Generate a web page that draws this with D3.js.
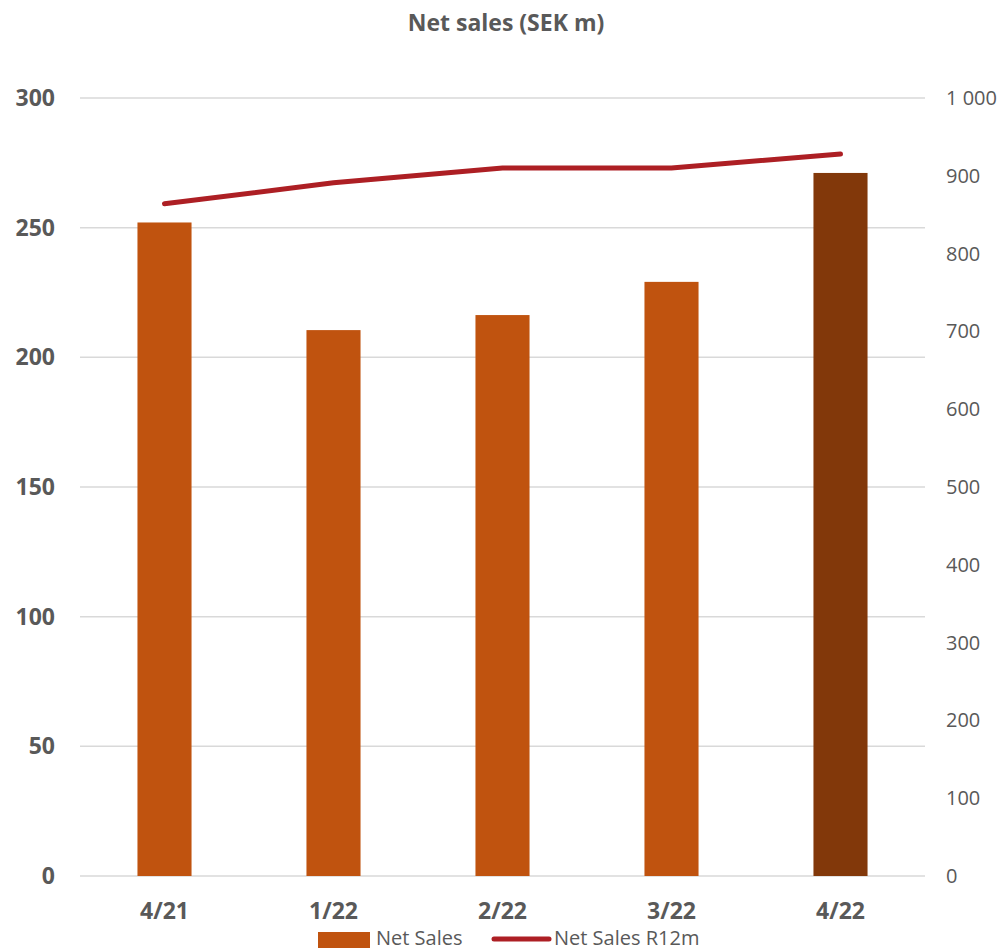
<!DOCTYPE html>
<html><head><meta charset="utf-8">
<script src="https://cdn.jsdelivr.net/npm/d3@7"></script>
<style>body{margin:0;background:#fff;} svg{display:block;font-family:"Open Sans","Noto Sans",sans-serif;}</style>
</head><body><svg id="c" width="1004" height="950"></svg>
<script>
const categories = ["4/21","1/22","2/22","3/22","4/22"];
const netSales = [252, 210.5, 216.3, 229.1, 271.1];
const netSalesR12m = [864, 891, 910, 910, 928];
const leftTicks = [0,50,100,150,200,250,300];
const rightTicks = [0,100,200,300,400,500,600,700,800,900,1000];

const svg = d3.select("#c");
const x = d3.scaleBand().domain(categories).range([80,925]).paddingInner(0.68).paddingOuter(0.34);
const yL = d3.scaleLinear().domain([0,300]).range([876,98]);
const yR = d3.scaleLinear().domain([0,1000]).range([876,98]);
const textCol = "#595959";

svg.append("text").attr("x",506).attr("y",31).attr("text-anchor","middle")
  .attr("font-size",23).attr("font-weight","bold").attr("fill",textCol).text("Net sales (SEK m)");

// grid
svg.append("g").selectAll("line").data(leftTicks).join("line")
  .attr("x1",80).attr("x2",925).attr("y1",d=>yL(d)).attr("y2",d=>yL(d))
  .attr("stroke","#d9d9d9").attr("stroke-width",1.5);

// left axis
const gl = svg.append("g").attr("transform","translate(55,0)")
  .call(d3.axisLeft(yL).tickValues(leftTicks).tickSize(0).tickPadding(0));
gl.select(".domain").remove();
gl.selectAll("text").attr("font-size",23).attr("font-weight","bold").attr("fill",textCol)
  .attr("font-family","Open Sans, sans-serif");

// right axis
const gr = svg.append("g").attr("transform","translate(946,0)")
  .call(d3.axisRight(yR).tickValues(rightTicks).tickSize(0).tickPadding(0)
    .tickFormat(d=>d3.format(",")(d).replace(/,/g," ")));
gr.select(".domain").remove();
gr.selectAll("text").attr("font-size",20).attr("fill",textCol).attr("font-family","Open Sans, sans-serif");

// bars
svg.append("g").selectAll("rect").data(netSales).join("rect")
  .attr("x",(d,i)=>x(categories[i])).attr("width",x.bandwidth())
  .attr("y",d=>yL(d)).attr("height",d=>yL(0)-yL(d))
  .attr("fill",(d,i)=>i===categories.length-1?"#82380A":"#C0530F");

// x axis
const gx = svg.append("g").attr("transform","translate(0,876)")
  .call(d3.axisBottom(x).tickSize(0).tickPadding(0));
gx.select(".domain").remove();
gx.selectAll("text").attr("font-size",23).attr("font-weight","bold").attr("fill",textCol)
  .attr("font-family","Open Sans, sans-serif").attr("y",43).attr("dy","0");

// line
svg.append("path").datum(netSalesR12m)
  .attr("d",d3.line().x((d,i)=>x(categories[i])+x.bandwidth()/2).y(d=>yR(d)))
  .attr("fill","none").attr("stroke","#AD1F24").attr("stroke-width",5).attr("stroke-linecap","round");

// legend
const lg = svg.append("g");
lg.append("rect").attr("x",318).attr("y",932).attr("width",52).attr("height",16).attr("fill","#C0530F");
lg.append("text").attr("x",376).attr("y",945).attr("font-size",20).attr("fill",textCol).text("Net Sales");
lg.append("line").attr("x1",494).attr("x2",549).attr("y1",939).attr("y2",939)
  .attr("stroke","#AD1F24").attr("stroke-width",5).attr("stroke-linecap","round");
lg.append("text").attr("x",554).attr("y",945).attr("font-size",20).attr("fill",textCol).text("Net Sales R12m");
</script></body></html>
